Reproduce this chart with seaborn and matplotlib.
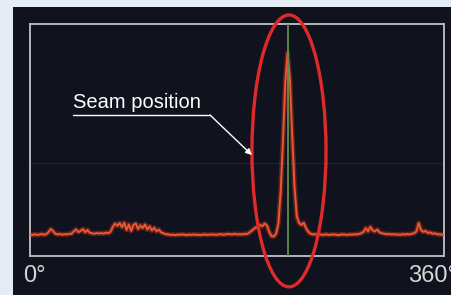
import numpy as np
import pandas as pd
import matplotlib
matplotlib.use("Agg")
import matplotlib.pyplot as plt
import seaborn as sns
from matplotlib.patches import Ellipse, Rectangle

# scan angle (deg) and reflected signal (0-100 of the window)
angle = np.arange(0, 361, 2)
signal = [
    9.3, 9.0, 9.4, 9.1, 9.2, 9.5, 9.2, 9.4, 10.2, 11.6,
    10.8, 9.6, 9.3, 9.5, 9.2, 9.4, 9.3, 9.6, 9.5, 10.6,
    11.5, 10.3, 10.8, 11.6, 10.2, 11.2, 10.0, 9.8, 9.6, 9.9,
    9.7, 9.9, 9.6, 10.1, 9.8, 10.4, 12.6, 14.0, 13.0, 14.2,
    12.4, 14.3, 11.2, 13.6, 10.8, 13.4, 14.0, 11.6, 13.2, 12.0,
    13.6, 11.4, 12.8, 11.0, 12.2, 10.6, 11.4, 10.2, 9.8, 9.4,
    9.3, 9.1, 9.2, 9.0, 9.2, 9.1, 9.3, 9.2, 9.0, 9.2,
    9.1, 9.3, 9.1, 9.2, 9.0, 9.2, 9.3, 9.1, 9.2, 9.3,
    9.2, 9.1, 9.3, 9.4, 9.2, 9.3, 9.5, 9.4, 9.3, 9.6,
    9.3, 9.4, 9.3, 9.5, 9.4, 9.8, 10.6, 11.4, 12.2, 12.5,
    13.4, 12.8, 14.0, 13.2, 10.4, 8.6, 8.4, 9.6, 14.0, 28.0,
    50.0, 75.0, 87.5, 76.0, 52.0, 30.0, 17.0, 14.2, 13.4, 14.3,
    12.0, 10.4, 9.6, 9.3, 9.4, 9.2, 9.3, 9.1, 9.2, 9.3,
    9.1, 9.2, 9.3, 9.2, 9.0, 9.2, 9.3, 9.2, 9.1, 9.3,
    9.2, 9.4, 9.3, 9.5, 9.8, 10.4, 12.0, 10.6, 12.6, 11.0,
    10.6, 11.4, 10.2, 9.8, 9.6, 9.4, 9.5, 9.3, 9.4, 9.2,
    9.3, 9.1, 9.4, 9.2, 9.5, 9.3, 9.6, 9.8, 10.6, 14.2,
    11.2, 10.4, 10.8, 9.9, 10.2, 9.6, 9.8, 9.4, 9.3, 9.2,
    9.1,
]
seam_angle = 224
tick_labels = ['0°', '360°']
label_text = 'Seam position'

df = pd.DataFrame({'angle': angle, 'signal': signal})

sns.set_style('dark')
plt.rcParams['font.family'] = ['Liberation Sans', 'DejaVu Sans']

fig = plt.figure(figsize=(4.52, 2.95), dpi=100)
fig.patch.set_facecolor('#e4edf5')
# dark screen panel
fig.patches.append(Rectangle((13/452, 0), 1, 288/295, transform=fig.transFigure,
                             facecolor='#10121e', edgecolor='none', zorder=-5))

ax = fig.add_axes([30/452, 39/295, 414/452, 232/295])
ax.set_zorder(2)
ax.set_facecolor('#10121e')

# faint middle gridline
ax.axhline(40, color='#1f2230', lw=0.8, zorder=1)

# glow + signal
sns.lineplot(data=df, x='angle', y='signal', ax=ax, color='#e2452b', lw=3.6, alpha=0.35, zorder=2)
sns.lineplot(data=df, x='angle', y='signal', ax=ax, color='#f0552e', lw=1.4, zorder=3)

# seam marker
ax.axvline(seam_angle, color='#5f8f4c', lw=1.3, zorder=4)

ax.set_xlim(0, 360)
ax.set_ylim(0, 100)
ax.set_xlabel('')
ax.set_ylabel('')
ax.set_yticks([])
ax.set_xticks([])
ax.grid(False)
for s in ax.spines.values():
    s.set_visible(True)
    s.set_color('#b6b6be')
    s.set_linewidth(1.4)

# end labels of the angle axis
xt = ax.get_xaxis_transform()
ax.text(-6.1, -0.085, tick_labels[0], transform=xt, ha='left', va='center',
        fontsize=17, color='#d6d6d6', clip_on=False)
ax.text(329, -0.085, tick_labels[1], transform=xt, ha='left', va='center',
        fontsize=17, color='#d6d6d6', clip_on=False)

# red ellipse around the peak
ax.add_patch(Ellipse((225.2, 45.3), 64.4, 117.2, fill=False, edgecolor='#e02a2a',
                     lw=2.4, clip_on=False, zorder=6))

# label with underline and arrow
ax.text(37.4, 63.6, label_text, color='white', fontsize=14.5, ha='left', va='baseline', zorder=7)
ax.plot([37.4, 156.5], [60.8, 60.8], color='white', lw=1.0, zorder=7)
ax.annotate('', xy=(193, 43.5), xytext=(156.5, 60.8),
            arrowprops=dict(arrowstyle='-|>', color='white', lw=1.0,
                            mutation_scale=9, shrinkA=0, shrinkB=0), zorder=7)

fig.savefig('out.png', dpi=100, facecolor=fig.get_facecolor())
